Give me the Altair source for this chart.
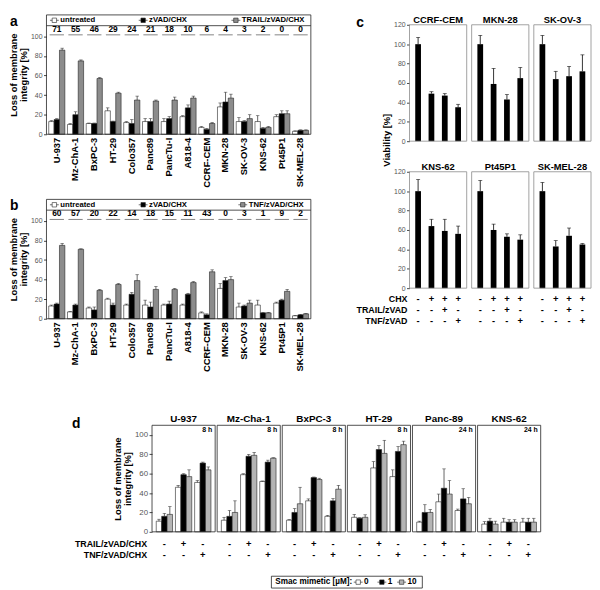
import altair as alt
import pandas as pd

FONT = "Liberation Sans"

# ---------------- panel a / b data ----------------
cells = ["U-937", "Mz-ChA-1", "BxPC-3", "HT-29", "Colo357", "Panc89", "PancTu-I",
         "A818-4", "CCRF-CEM", "MKN-28", "SK-OV-3", "KNS-62", "Pt45P1", "SK-MEL-28"]
labels_a = ["untreated", "zVAD/CHX", "TRAIL/zVAD/CHX"]
labels_b = ["untreated", "zVAD/CHX", "TNF/zVAD/CHX"]

a_untreated = [13, 10, 11, 24, 12, 13, 13, 18, 7, 28, 13, 13, 18, 3]
a_untreated_err = [1, 1, 0.5, 3, 1, 3, 3, 1, 1, 4, 4, 6, 2, 0.5]
a_zvad = [15, 20, 11, 13, 11, 13, 16, 27, 5, 33, 13, 6, 21, 4]
a_zvad_err = [1, 3, 0.5, 0.5, 4, 3, 2, 3, 1, 10, 1, 1, 3, 0.5]
a_trail = [86, 75, 57, 42, 35, 34, 35, 37, 11, 37, 16, 7, 21, 4]
a_trail_err = [2, 1, 1, 1, 4, 1, 3, 2, 1, 4, 4, 1, 3, 0.5]
a_specific = [71, 55, 46, 29, 24, 21, 18, 10, 6, 4, 3, 2, 0, 0]

b_untreated = [13, 7, 11, 20, 14, 14, 14, 14, 6, 31, 12, 14, 16, 3]
b_untreated_err = [1, 0.5, 1, 1, 1, 5, 1, 1, 1, 5, 4, 5, 1, 0.5]
b_zvad = [15, 14, 9, 14, 25, 12, 15, 25, 4, 39, 13, 6, 19, 4]
b_zvad_err = [1, 1, 3, 2, 2, 5, 3, 1, 1, 3, 1, 0.5, 1, 0.5]
b_tnf = [75, 71, 29, 35, 39, 30, 30, 37, 48, 40, 16, 6, 28, 5]
b_tnf_err = [2, 0.5, 1, 1, 6, 3, 1, 1, 2, 3, 3, 0.5, 2, 0.5]
b_specific = [60, 57, 20, 22, 14, 18, 15, 11, 43, 0, 3, 1, 9, 2]

# ---------------- panel c data ----------------
c_cells = ["CCRF-CEM", "MKN-28", "SK-OV-3", "KNS-62", "Pt45P1", "SK-MEL-28"]
c_viability = [[100, 49, 47, 35], [100, 59, 43, 65], [100, 64, 67, 72],
               [100, 64, 59, 56], [100, 60, 53, 50], [100, 43, 54, 45]]
c_err = [[7, 2, 2, 3], [9, 16, 5, 11], [9, 8, 10, 17],
         [12, 7, 12, 8], [11, 6, 3, 5], [9, 6, 8, 1]]
c_row_labels = ["CHX", "TRAIL/zVAD", "TNF/zVAD"]
c_chx = ["-", "+", "+", "+"]
c_trail = ["-", "-", "+", "-"]
c_tnf = ["-", "-", "-", "+"]

# ---------------- panel d data ----------------
d_cells = ["U-937", "Mz-Cha-1", "BxPC-3", "HT-29", "Panc-89", "KNS-62"]
d_time = ["8 h", "8 h", "8 h", "8 h", "24 h", "24 h"]
d_doses = ["0", "1", "10"]
d_row_labels = ["TRAIL/zVAD/CHX", "TNF/zVAD/CHX"]
d_trail = ["-", "+", "-"]
d_tnf = ["-", "-", "+"]
# [control, TRAIL, TNF] x [0, 1, 10 uM]
d_vals = [
    [[11, 16, 18], [46, 59, 57], [51, 71, 64]],
    [[12, 16, 20], [59, 78, 79], [52, 72, 76]],
    [[12, 20, 29], [32, 56, 54], [16, 32, 44]],
    [[15, 14, 15], [66, 85, 81], [57, 83, 90]],
    [[10, 20, 20], [31, 45, 39], [22, 34, 29]],
    [[8, 11, 8], [10, 10, 10], [10, 10, 10]],
]
d_errs = [
    [[2, 3, 8], [2, 1, 7], [2, 1, 3]],
    [[3, 6, 12], [1, 2, 3], [0.5, 2, 0.5]],
    [[0.6, 4, 17], [2, 0.6, 1.3], [1, 2.3, 4]],
    [[3, 0.6, 2.6], [6.5, 4, 13.5], [7, 5, 3.6]],
    [[1, 8, 3], [8, 20, 14], [1.5, 10.5, 6.5]],
    [[2.5, 3, 3], [4, 2.5, 2.5], [4, 4, 4]],
]

AB_FILLS = ["#ffffff", "#000000", "#8c8c8c"]
D_FILLS = ["#ffffff", "#000000", "#b4b4b4"]
EDGE = "#222222"

one = pd.DataFrame({"k": [0]})


def txt(s, x, y, size=9.0, align="left", angle=0, color="black", baseline="middle"):
    return alt.Chart(one).mark_text(
        fontSize=size, fontWeight="bold", align=align, baseline=baseline,
        angle=angle, color=color, text=s
    ).encode(x=alt.value(x), y=alt.value(y))


def frame(W, H, color=EDGE):
    return alt.Chart(one).mark_rect(fillOpacity=0, stroke=color, strokeWidth=0.8).encode(
        x=alt.value(0), x2=alt.value(W), y=alt.value(0), y2=alt.value(H))


def spacer(x, y):
    return alt.Chart(one).mark_rule(opacity=0).encode(
        x=alt.value(x), x2=alt.value(x + 1), y=alt.value(y))


def blank(w, h):
    return alt.Chart(one).mark_point(opacity=0).encode(
        x=alt.value(0), y=alt.value(0)).properties(width=w, height=h)


def yaxis(values, title=None, label_size=7.0):
    kw = dict(values=values, labelFontSize=label_size, labelColor="#555555",
              tickSize=3, tickColor="#444444", domain=False, grid=False,
              labelPadding=1.5)
    if title is None:
        kw["title"] = None
    else:
        kw.update(title=title, titleFontSize=9.5, titleFontWeight="bold",
                  titleColor="black", titlePadding=2, titleLineHeight=10)
    return alt.Axis(**kw)


# ---------------- panel a / b ----------------
def panel_ab(letter, labels, series, errs, nums, sxs):
    W, H = 268, 121
    rows = []
    for i, c in enumerate(cells):
        for t in range(3):
            v = series[t][i]
            rows.append({"cell": c, "trt": t, "value": v, "top": v + errs[t][i],
                         "fill": AB_FILLS[t]})
    df = pd.DataFrame(rows)
    xs = alt.Scale(paddingInner=0.14, paddingOuter=0.12)
    x = alt.X("cell:N", sort=cells, scale=xs,
              axis=alt.Axis(title=None, labelAngle=-90, labelFontSize=9.5,
                            labelFontWeight="bold", labelColor="black",
                            ticks=False, domain=False, labelPadding=3))
    xo = alt.XOffset("trt:O", scale=alt.Scale(paddingInner=0, paddingOuter=0))
    ys = alt.Scale(domain=[0, 122], nice=False)
    ax = yaxis([0, 20, 40, 60, 80, 100], ["Loss of membrane", "integrity [%]"])
    y = alt.Y("value:Q", scale=ys, axis=ax)
    ytop = alt.Y("top:Q", scale=ys, axis=ax)
    base = alt.Chart(df)
    layers = [
        base.mark_bar(stroke=EDGE, strokeWidth=0.6).encode(
            x=x, xOffset=xo, y=y, fill=alt.Fill("fill:N", scale=None)),
        base.mark_rule(color=EDGE, strokeWidth=0.7).encode(x=x, xOffset=xo, y=y, y2="top:Q"),
        base.mark_tick(color=EDGE, thickness=0.7, size=3.5).encode(x=x, xOffset=xo, y=ytop),
    ]
    ndf = pd.DataFrame({"cell": cells, "num": [str(n) for n in nums],
                        "ny": [102.8] * len(cells), "uy": [101.6] * len(cells)})
    layers.append(alt.Chart(ndf).mark_text(fontSize=8.5, fontWeight="bold", baseline="bottom")
                  .encode(x=x, y=alt.Y("ny:Q", scale=ys, axis=ax), text="num:N"))
    layers.append(alt.Chart(ndf).mark_tick(color=EDGE, thickness=0.8, size=14.5)
                  .encode(x=x, y=alt.Y("uy:Q", scale=ys, axis=ax)))
    # legend strip inside the frame
    sep_y = H * (1 - 111 / 122)
    ly = H * (1 - 116.5 / 122)
    layers.append(alt.Chart(one).mark_rule(color=EDGE, strokeWidth=0.8).encode(
        x=alt.value(0), x2=alt.value(W), y=alt.value(sep_y)))
    for sx, lab, fill in zip(sxs, labels, AB_FILLS):
        layers.append(alt.Chart(one).mark_rule(color="#333333", strokeWidth=0.7).encode(
            x=alt.value(sx - 4.5), x2=alt.value(sx + 4.5), y=alt.value(ly)))
        layers.append(alt.Chart(one).mark_square(size=20, fill=fill, stroke=EDGE,
                                                 strokeWidth=0.6, opacity=1).encode(
            x=alt.value(sx), y=alt.value(ly)))
        layers.append(txt(lab, sx + 6, ly, size=7.8))
    layers.append(txt(letter, -37, 11, size=14, baseline="alphabetic"))
    layers.append(frame(W, H))
    return alt.layer(*layers).properties(width=W, height=H)


# ---------------- panel c ----------------
def panel_c(idx, first_col, bottom, top_left=False):
    W, H = 58, 118
    df = pd.DataFrame({
        "cond": [0, 1, 2, 3],
        "value": c_viability[idx],
        "top": [v + e for v, e in zip(c_viability[idx], c_err[idx])],
        "chx": c_chx, "trail": c_trail, "tnf": c_tnf,
    })
    x = alt.X("cond:O", scale=alt.Scale(paddingInner=0.57, paddingOuter=0.43), axis=None)
    ys = alt.Scale(domain=[0, 120], nice=False)
    ax = yaxis([0, 20, 40, 60, 80, 100, 120]) if first_col else None
    y = alt.Y("value:Q", scale=ys, axis=ax)
    ytop = alt.Y("top:Q", scale=ys, axis=ax)
    base = alt.Chart(df)
    layers = [
        base.mark_bar(color="black").encode(x=x, y=y),
        base.mark_rule(color="black", strokeWidth=0.8).encode(x=x, y=y, y2="top:Q"),
        base.mark_tick(color="black", thickness=0.8, size=4).encode(x=x, y=ytop),
        txt(c_cells[idx], W / 2, -2, size=9.5, align="center", baseline="alphabetic"),
        frame(W, H, "#8a8a8a"),
    ]
    if bottom:
        for field, dy, lab in zip(["chx", "trail", "tnf"], [11, 22, 33], c_row_labels):
            layers.append(base.mark_text(fontSize=9.5, fontWeight="bold", baseline="middle")
                          .encode(x=x, y=alt.value(H + dy), text=f"{field}:N"))
            if first_col:
                layers.append(txt(lab, -2, H + dy, size=9, align="right"))
    if first_col:
        layers.append(spacer(-57, H / 2))
    if top_left:
        layers.append(txt("c", -54, 2, size=14, baseline="alphabetic"))
        layers.append(txt("Viability [%]", -23, 117, size=9.5, align="center", angle=270))
    return alt.layer(*layers).properties(width=W, height=H)


# ---------------- panel d ----------------
def panel_d(idx):
    W, H = 64, 108
    first = idx == 0
    rows = []
    for g in range(3):
        for k in range(3):
            v = d_vals[idx][g][k]
            rows.append({"grp": g, "dose": k, "value": v, "top": v + d_errs[idx][g][k],
                         "fill": D_FILLS[k]})
    df = pd.DataFrame(rows)
    x = alt.X("grp:O", scale=alt.Scale(paddingInner=0.15, paddingOuter=0.22), axis=None)
    xo = alt.XOffset("dose:O", scale=alt.Scale(paddingInner=0, paddingOuter=0))
    ys = alt.Scale(domain=[0, 110], nice=False)
    ax = yaxis([0, 20, 40, 60, 80, 100], ["Loss of membrane", "integrity [%]"],
               label_size=8) if first else None
    y = alt.Y("value:Q", scale=ys, axis=ax)
    ytop = alt.Y("top:Q", scale=ys, axis=ax)
    base = alt.Chart(df)
    layers = [
        base.mark_bar(stroke=EDGE, strokeWidth=0.6).encode(
            x=x, xOffset=xo, y=y, fill=alt.Fill("fill:N", scale=None)),
        base.mark_rule(color=EDGE, strokeWidth=0.7).encode(x=x, xOffset=xo, y=y, y2="top:Q"),
        base.mark_tick(color=EDGE, thickness=0.7, size=3.5).encode(x=x, xOffset=xo, y=ytop),
        txt(d_time[idx], W - 3, 5, size=7, align="right"),
        txt(d_cells[idx], W / 2, -3, size=10, align="center", baseline="alphabetic"),
        frame(W, H),
    ]
    sdf = pd.DataFrame({"grp": [0, 1, 2], "trail": d_trail, "tnf": d_tnf})
    for field, dy, lab in zip(["trail", "tnf"], [12.5, 24], d_row_labels):
        layers.append(alt.Chart(sdf).mark_text(fontSize=9.5, fontWeight="bold", baseline="middle")
                      .encode(x=x, y=alt.value(H + dy), text=f"{field}:N"))
        if first:
            layers.append(txt(lab, -5, H + dy, size=9, align="right"))
    if first:
        layers.append(txt("d", -81, 3, size=14, baseline="alphabetic"))
        layers.append(spacer(-84, H / 2))
    return alt.layer(*layers).properties(width=W, height=H)


# ---------------- legend for d ----------------
def legend_d():
    W, H = 153, 12
    layers = [txt("Smac mimetic [\u00b5M]:", 4, 6, size=8.3), frame(W, H)]
    for sx, lab, fill in zip([88, 112, 132], d_doses, D_FILLS):
        layers.append(alt.Chart(one).mark_rule(color="#333333", strokeWidth=0.7).encode(
            x=alt.value(sx - 4.5), x2=alt.value(sx + 4.5), y=alt.value(6)))
        layers.append(alt.Chart(one).mark_square(size=20, fill=fill, stroke=EDGE,
                                                 strokeWidth=0.6, opacity=1).encode(
            x=alt.value(sx), y=alt.value(6)))
        layers.append(txt(lab, sx + 6, 6, size=8.3))
    return alt.layer(*layers).properties(width=W, height=H)


a = panel_ab("a", labels_a, [a_untreated, a_zvad, a_trail],
             [a_untreated_err, a_zvad_err, a_trail_err], a_specific, [8, 98, 192])
b = panel_ab("b", labels_b, [b_untreated, b_zvad, b_tnf],
             [b_untreated_err, b_zvad_err, b_tnf_err], b_specific, [8, 98, 199])
ab = alt.vconcat(a, b, spacing=11).resolve_scale(xOffset="independent")

c_top = alt.hconcat(*[panel_c(i, i == 0, False, i == 0) for i in range(3)], spacing=3)
c_bot = alt.hconcat(*[panel_c(i, i == 3, True) for i in range(3, 6)], spacing=3)
c = alt.vconcat(blank(10, 5), c_top, c_bot, spacing=-5)

top = alt.hconcat(ab, c, spacing=42).resolve_scale(xOffset="independent")
d = alt.hconcat(blank(23, 10), *[panel_d(i) for i in range(6)], spacing=0).resolve_scale(
    xOffset="independent")
leg = alt.hconcat(blank(227, 12), legend_d(), spacing=0)
bottom = alt.vconcat(d, leg, spacing=13).resolve_scale(xOffset="independent")

chart = alt.vconcat(top, bottom, spacing=43).resolve_scale(
    xOffset="independent"
).properties(padding=0).configure(font=FONT, padding=0).configure_view(strokeWidth=0)

chart.save("out.html", embed_options={"renderer": "svg", "actions": False})
